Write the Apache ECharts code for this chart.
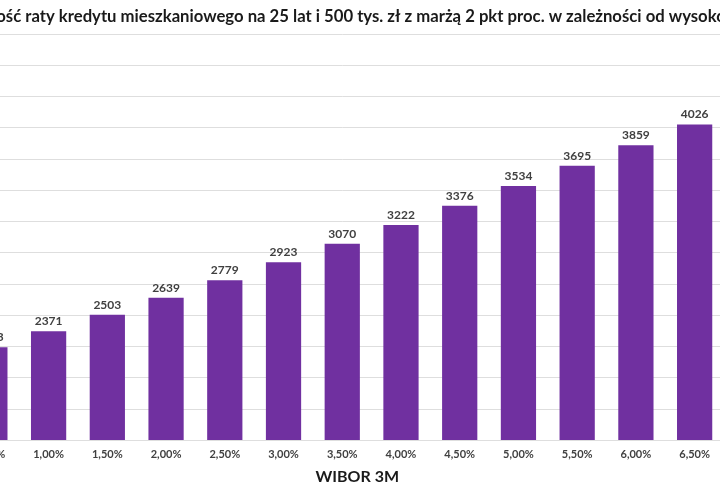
<!DOCTYPE html>
<html>
<head>
<meta charset="utf-8">
<script src="https://cdn.jsdelivr.net/npm/echarts@6/dist/echarts.min.js"></script>
<style>
  html, body { margin: 0; padding: 0; width: 720px; height: 500px; overflow: hidden; background: #fff; }
  /* the reference is a crop of a wider chart, so the canvas is shifted left */
  #chart { position: absolute; left: -60px; top: 0; width: 800px; height: 500px; }
</style>
</head>
<body>
<div id="chart"></div>
<script>
// Data
const titleText = 'Wysokość raty kredytu mieszkaniowego na 25 lat i 500 tys. zł z marżą 2 pkt proc. w zależności od wysokości WIBOR 3M';
const wibor = ['0,50%', '1,00%', '1,50%', '2,00%', '2,50%', '3,00%', '3,50%', '4,00%', '4,50%', '5,00%', '5,50%', '6,00%', '6,50%'];
const rata = [2243, 2371, 2503, 2639, 2779, 2923, 3070, 3222, 3376, 3534, 3695, 3859, 4026];
const axisName = 'WIBOR 3M';
const yMin = 1500;
const yMax = 4750;
const yStep = 250;

const textColor = '#404040';
const gridColor = '#dedede';
const barColor = '#7030a0';
const font = 'Lato, "Open Sans", sans-serif';

const chart = echarts.init(document.getElementById('chart'));

chart.setOption({
  backgroundColor: '#fff',
  animation: false,
  title: {
    text: titleText,
    left: 0,
    top: 3,
    textStyle: {
      color: '#1a1a1a',
      fontSize: 16.7,
      fontWeight: 'bold',
      fontFamily: font,
    },
  },
  grid: {
    left: 20.5,
    right: 16,
    top: 34,
    bottom: 60,
    containLabel: false,
    outerBoundsMode: 'none',
  },
  xAxis: {
    type: 'category',
    data: wibor,
    name: axisName,
    nameLocation: 'middle',
    nameGap: 29,
    nameTextStyle: {
      color: '#1a1a1a',
      fontSize: 16,
      fontWeight: 'bold',
      fontFamily: font,
      padding: [0, 0, 0, 30],
    },
    axisTick: { show: false },
    axisLine: { lineStyle: { color: gridColor, width: 1 } },
    axisLabel: {
      color: textColor,
      fontSize: 11,
      fontWeight: 'bold',
      fontFamily: font,
      margin: 9,
    },
  },
  yAxis: {
    type: 'value',
    min: yMin,
    max: yMax,
    interval: yStep,
    axisLabel: { show: false },
    axisLine: { show: false },
    axisTick: { show: false },
    splitLine: { lineStyle: { color: gridColor, width: 1 } },
  },
  series: [
    {
      type: 'bar',
      data: rata,
      barWidth: '60%',
      itemStyle: { color: barColor },
      label: {
        show: true,
        position: 'top',
        distance: 4,
        color: textColor,
        fontSize: 12,
        fontWeight: 'bold',
        fontFamily: font,
      },
    },
  ],
});
</script>
</body>
</html>
